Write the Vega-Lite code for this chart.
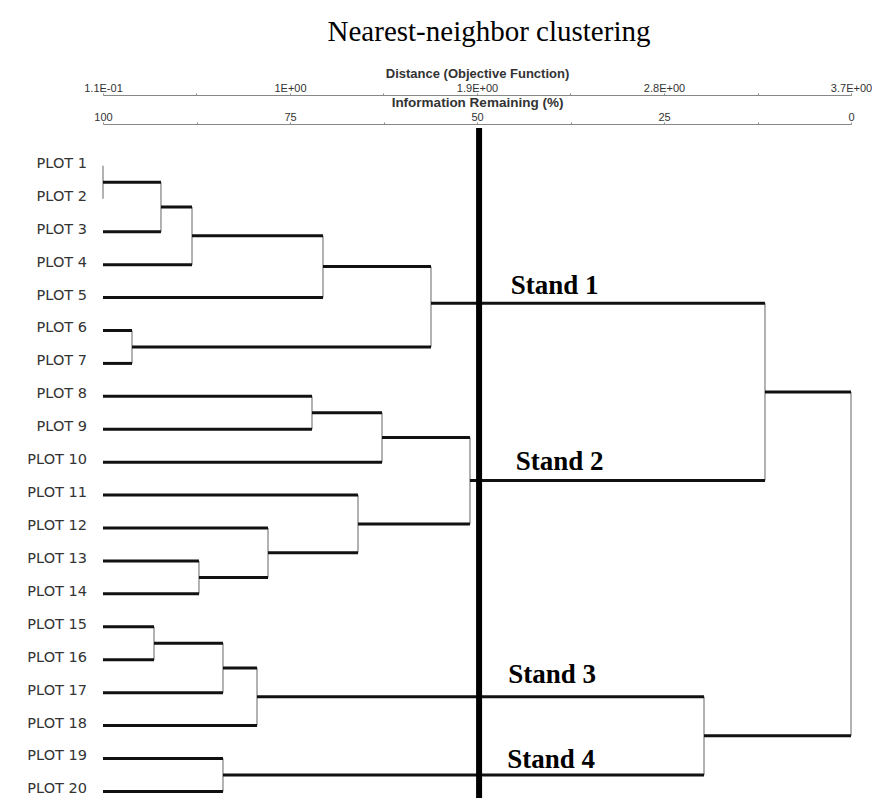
{
  "$schema": "https://vega.github.io/schema/vega-lite/v6.json",
  "width": 748,
  "height": 670,
  "autosize": {"type": "none"},
  "padding": {"left": 103, "top": 128, "right": 28, "bottom": 0},
  "background": "white",
  "title": {"text": "Nearest-neighbor clustering", "font": "Liberation Serif", "fontSize": 29, "fontWeight": "normal", "color": "#000", "anchor": "middle", "offset": 20, "dx": 12},
  "config": {"view": {"stroke": null}},
  "datasets": {
    "horizontal": [
      {"node": "P3", "pos": 3, "from": 100, "to": 92.25},
      {"node": "P4", "pos": 4, "from": 100, "to": 88.1},
      {"node": "P5", "pos": 5, "from": 100, "to": 70.59},
      {"node": "P6", "pos": 6, "from": 100, "to": 96.12},
      {"node": "P7", "pos": 7, "from": 100, "to": 96.12},
      {"node": "P8", "pos": 8, "from": 100, "to": 72.06},
      {"node": "P9", "pos": 9, "from": 100, "to": 72.06},
      {"node": "P10", "pos": 10, "from": 100, "to": 62.7},
      {"node": "P11", "pos": 11, "from": 100, "to": 65.91},
      {"node": "P12", "pos": 12, "from": 100, "to": 77.94},
      {"node": "P13", "pos": 13, "from": 100, "to": 87.17},
      {"node": "P14", "pos": 14, "from": 100, "to": 87.17},
      {"node": "P15", "pos": 15, "from": 100, "to": 93.18},
      {"node": "P16", "pos": 16, "from": 100, "to": 93.18},
      {"node": "P17", "pos": 17, "from": 100, "to": 83.96},
      {"node": "P18", "pos": 18, "from": 100, "to": 79.41},
      {"node": "P19", "pos": 19, "from": 100, "to": 83.96},
      {"node": "P20", "pos": 20, "from": 100, "to": 83.96},
      {"node": "1-2", "pos": 1.5, "from": 100, "to": 92.25},
      {"node": "1-3", "pos": 2.25, "from": 92.25, "to": 88.1},
      {"node": "1-4", "pos": 3.125, "from": 88.1, "to": 70.59},
      {"node": "1-5", "pos": 4.06, "from": 70.59, "to": 56.15},
      {"node": "6-7", "pos": 6.5, "from": 96.12, "to": 56.15},
      {"node": "Stand 1", "pos": 5.17, "from": 56.15, "to": 11.5},
      {"node": "8-9", "pos": 8.5, "from": 72.06, "to": 62.7},
      {"node": "8-10", "pos": 9.25, "from": 62.7, "to": 50.94},
      {"node": "13-14", "pos": 13.5, "from": 87.17, "to": 77.94},
      {"node": "12-14", "pos": 12.75, "from": 77.94, "to": 65.91},
      {"node": "11-14", "pos": 11.875, "from": 65.91, "to": 50.94},
      {"node": "Stand 2", "pos": 10.56, "from": 50.94, "to": 11.5},
      {"node": "Stands 1-2", "pos": 7.87, "from": 11.5, "to": 0},
      {"node": "15-16", "pos": 15.5, "from": 93.18, "to": 83.96},
      {"node": "15-17", "pos": 16.25, "from": 83.96, "to": 79.41},
      {"node": "Stand 3", "pos": 17.125, "from": 79.41, "to": 19.65},
      {"node": "Stand 4", "pos": 19.5, "from": 83.96, "to": 19.65},
      {"node": "Stands 3-4", "pos": 18.31, "from": 19.65, "to": 0}
    ],
    "vertical": [
      {"node": "1-2", "level": 100, "top": 1, "bottom": 2},
      {"node": "1-3", "level": 92.25, "top": 1.5, "bottom": 3},
      {"node": "1-4", "level": 88.1, "top": 2.25, "bottom": 4},
      {"node": "1-5", "level": 70.59, "top": 3.125, "bottom": 5},
      {"node": "6-7", "level": 96.12, "top": 6, "bottom": 7},
      {"node": "Stand 1", "level": 56.15, "top": 4.06, "bottom": 6.5},
      {"node": "8-9", "level": 72.06, "top": 8, "bottom": 9},
      {"node": "8-10", "level": 62.7, "top": 8.5, "bottom": 10},
      {"node": "13-14", "level": 87.17, "top": 13, "bottom": 14},
      {"node": "12-14", "level": 77.94, "top": 12, "bottom": 13.5},
      {"node": "11-14", "level": 65.91, "top": 11, "bottom": 12.75},
      {"node": "Stand 2", "level": 50.94, "top": 9.25, "bottom": 11.875},
      {"node": "Stands 1-2", "level": 11.5, "top": 5.17, "bottom": 10.56},
      {"node": "15-16", "level": 93.18, "top": 15, "bottom": 16},
      {"node": "15-17", "level": 83.96, "top": 15.5, "bottom": 17},
      {"node": "Stand 3", "level": 79.41, "top": 16.25, "bottom": 18},
      {"node": "Stand 4", "level": 83.96, "top": 19, "bottom": 20},
      {"node": "Stands 3-4", "level": 19.65, "top": 17.125, "bottom": 19.5},
      {"node": "All", "level": 0, "top": 7.87, "bottom": 18.31}
    ],
    "leaves": [
      {"plot": "PLOT 1", "pos": 1}, {"plot": "PLOT 2", "pos": 2}, {"plot": "PLOT 3", "pos": 3},
      {"plot": "PLOT 4", "pos": 4}, {"plot": "PLOT 5", "pos": 5}, {"plot": "PLOT 6", "pos": 6},
      {"plot": "PLOT 7", "pos": 7}, {"plot": "PLOT 8", "pos": 8}, {"plot": "PLOT 9", "pos": 9},
      {"plot": "PLOT 10", "pos": 10}, {"plot": "PLOT 11", "pos": 11}, {"plot": "PLOT 12", "pos": 12},
      {"plot": "PLOT 13", "pos": 13}, {"plot": "PLOT 14", "pos": 14}, {"plot": "PLOT 15", "pos": 15},
      {"plot": "PLOT 16", "pos": 16}, {"plot": "PLOT 17", "pos": 17}, {"plot": "PLOT 18", "pos": 18},
      {"plot": "PLOT 19", "pos": 19}, {"plot": "PLOT 20", "pos": 20}
    ],
    "stands": [
      {"stand": "Stand 1", "info": 45.5, "pos": 4.89},
      {"stand": "Stand 2", "info": 44.83, "pos": 10.23},
      {"stand": "Stand 3", "info": 45.82, "pos": 16.7},
      {"stand": "Stand 4", "info": 45.95, "pos": 19.29}
    ],
    "cut": [{"distance": 1.915}]
  },
  "layer": [
    {
      "layer": [
        {
          "data": {"name": "vertical"},
          "mark": {"type": "rule", "color": "#999999", "strokeWidth": 1.5},
          "encoding": {
            "x": {"field": "level", "type": "quantitative", "title": "Information Remaining (%)",
              "scale": {"domain": [0, 100], "reverse": true, "nice": false, "zero": false},
              "axis": {"orient": "top", "offset": 4, "values": [100, 87.5, 75, 62.5, 50, 37.5, 25, 12.5, 0],
                "labelExpr": "datum.value % 25 == 0 ? datum.label : ''", "format": "d", "labelFlush": false,
                "grid": false, "domainColor": "#888888", "tickColor": "#888888", "tickSize": 2,
                "labelFont": "Liberation Sans", "labelFontSize": 11, "labelColor": "#333333", "labelPadding": 0,
                "titleFont": "Liberation Sans", "titleFontSize": 13.5, "titleFontWeight": "bold", "titleColor": "#333333",
                "titleY": -15, "titleBaseline": "bottom"}},
            "y": {"field": "top", "type": "quantitative", "scale": {"domain": [-0.15, 20.2], "reverse": true, "nice": false, "zero": false}, "axis": null},
            "y2": {"field": "bottom"}
          }
        },
        {
          "data": {"name": "horizontal"},
          "mark": {"type": "rule", "color": "#111111", "strokeWidth": 3},
          "encoding": {
            "x": {"field": "from", "type": "quantitative", "title": "Information Remaining (%)"},
            "x2": {"field": "to"},
            "y": {"field": "pos", "type": "quantitative"}
          }
        },
        {
          "data": {"name": "leaves"},
          "mark": {"type": "text", "align": "right", "baseline": "middle", "dx": -16, "dy": -2, "font": "DejaVu Sans", "fontSize": 14.5, "color": "#333333"},
          "encoding": {
            "x": {"datum": 100, "type": "quantitative", "title": "Information Remaining (%)"},
            "y": {"field": "pos", "type": "quantitative"},
            "text": {"field": "plot"}
          }
        },
        {
          "data": {"name": "stands"},
          "mark": {"type": "text", "align": "left", "baseline": "alphabetic", "font": "Liberation Serif", "fontWeight": "bold", "fontSize": 27, "color": "#000000"},
          "encoding": {
            "x": {"field": "info", "type": "quantitative", "title": "Information Remaining (%)"},
            "y": {"field": "pos", "type": "quantitative"},
            "text": {"field": "stand"}
          }
        }
      ]
    },
    {
      "data": {"name": "cut"},
      "mark": {"type": "rule", "color": "#000000", "strokeWidth": 6},
      "encoding": {
        "x": {"field": "distance", "type": "quantitative", "title": "Distance (Objective Function)",
          "scale": {"domain": [0.11, 3.7], "nice": false, "zero": false},
          "axis": {"orient": "top", "offset": 33, "values": [0.11, 0.55875, 1.0075, 1.45625, 1.905, 2.35375, 2.8025, 3.25125, 3.7],
            "labelExpr": "datum.value == 0.11 ? '1.1E-01' : datum.value == 1.0075 ? '1E+00' : datum.value == 1.905 ? '1.9E+00' : datum.value == 2.8025 ? '2.8E+00' : datum.value == 3.7 ? '3.7E+00' : ''",
            "labelFlush": false,
            "grid": false, "domainColor": "#888888", "tickColor": "#888888", "tickSize": 2,
            "labelFont": "Liberation Sans", "labelFontSize": 11, "labelColor": "#333333", "labelPadding": 0,
            "titleFont": "Liberation Sans", "titleFontSize": 13, "titleFontWeight": "bold", "titleColor": "#333333",
            "titleY": -15, "titleBaseline": "bottom"}}
      }
    }
  ],
  "resolve": {"scale": {"x": "independent"}, "axis": {"x": "independent"}}
}
